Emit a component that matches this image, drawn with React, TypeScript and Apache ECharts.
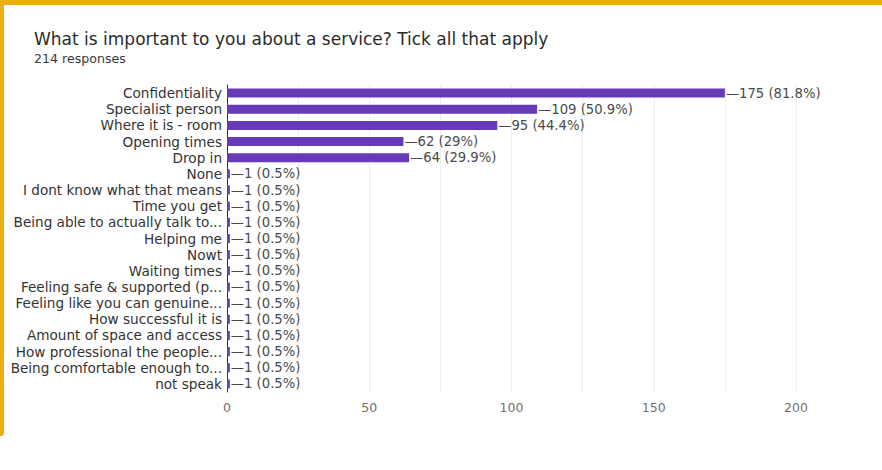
import React, { useEffect, useRef } from "react";
import * as echarts from "echarts";

const titleText = "What is important to you about a service? Tick all that apply";
const subtitleText = "214 responses";

const categories = [
  "Confidentiality",
  "Specialist person",
  "Where it is - room",
  "Opening times",
  "Drop in",
  "None",
  "I dont know what that means",
  "Time you get",
  "Being able to actually talk to...",
  "Helping me",
  "Nowt",
  "Waiting times",
  "Feeling safe & supported (p...",
  "Feeling like you can genuine...",
  "How successful it is",
  "Amount of space and access",
  "How professional the people...",
  "Being comfortable enough to...",
  "not speak",
];

const counts = [175, 109, 95, 62, 64, 1, 1, 1, 1, 1, 1, 1, 1, 1, 1, 1, 1, 1, 1];

const percents = [
  "81.8%", "50.9%", "44.4%", "29%", "29.9%", "0.5%", "0.5%", "0.5%", "0.5%", "0.5%",
  "0.5%", "0.5%", "0.5%", "0.5%", "0.5%", "0.5%", "0.5%", "0.5%", "0.5%",
];

const xTicks = [0, 50, 100, 150, 200];

const FONT = "DejaVu Sans, Verdana, sans-serif";

export default function App() {
  const ref = useRef<HTMLDivElement>(null);
  useEffect(() => {
    if (!ref.current) return;
    const chart = echarts.init(ref.current, undefined, { renderer: "svg" });
    chart.setOption({
      animation: false,
      backgroundColor: "#ffffff",
      textStyle: { fontFamily: FONT },
      title: {
        text: titleText,
        subtext: subtitleText,
        left: 29,
        top: 25,
        itemGap: 5,
        textStyle: {
          fontFamily: FONT,
          fontSize: 17,
          fontWeight: "normal",
          color: "#2b2b2b",
        },
        subtextStyle: {
          fontFamily: FONT,
          fontSize: 12.6,
          color: "#3a3a3a",
        },
      },
      graphic: [
        { type: "rect", shape: { x: 0, y: 0, width: 882, height: 5 }, style: { fill: "#E9AE12" } },
        { type: "rect", shape: { x: 0, y: 0, width: 4, height: 436, r: [0, 0, 3, 0] }, style: { fill: "#E9AE12" } },
      ],
      grid: { left: 227, right: 86, top: 85, bottom: 78, containLabel: false },
      xAxis: {
        type: "value",
        min: 0,
        max: 200,
        interval: 25,
        axisLine: { show: false },
        axisTick: { show: false },
        axisLabel: {
          margin: 9,
          fontSize: 12.5,
          color: "#707070",
          formatter: (v: number) => (xTicks.includes(v) ? String(v) : ""),
        },
        splitLine: { show: true, lineStyle: { color: "#eeeeee", width: 1 } },
      },
      yAxis: {
        type: "category",
        data: categories,
        inverse: true,
        axisLine: { show: true, lineStyle: { color: "#333333", width: 1 } },
        axisTick: { show: false },
        axisLabel: { interval: 0, margin: 5, fontSize: 13.6, color: "#333333" },
      },
      series: [
        {
          type: "bar",
          data: counts,
          barWidth: 9,
          itemStyle: { color: "#673AB7" },
          label: {
            show: true,
            position: "right",
            distance: 1,
            fontSize: 13.2,
            color: "#4a4a4a",
            formatter: (p: any) => "—" + p.value + " (" + percents[p.dataIndex] + ")",
          },
        },
      ],
    });
    return () => chart.dispose();
  }, []);
  return (
    <div
      ref={ref}
      style={{ position: "absolute", left: 0, top: 0, width: 882, height: 470 }}
    />
  );
}
